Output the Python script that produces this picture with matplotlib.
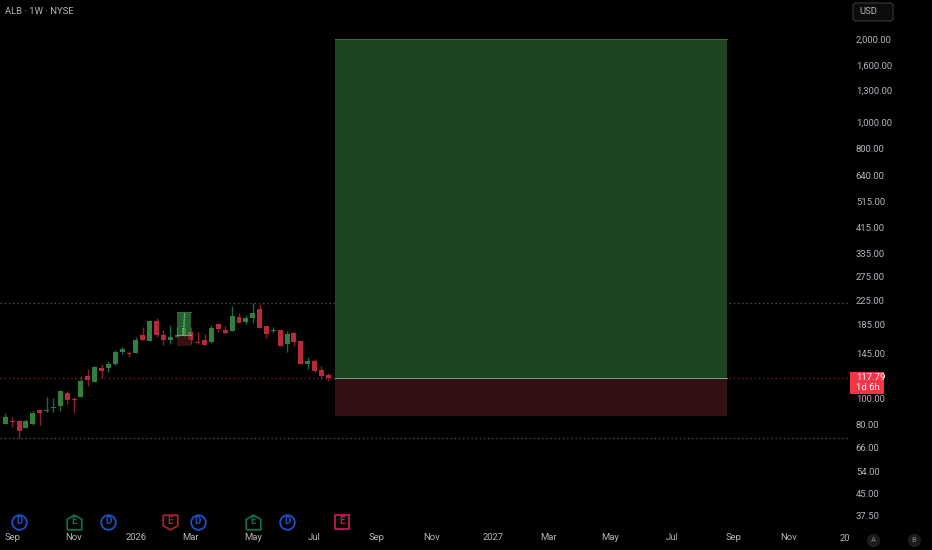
import matplotlib
matplotlib.use('Agg')
import matplotlib.pyplot as plt
import matplotlib.dates as mdates
from matplotlib.patches import FancyBboxPatch, Rectangle
from matplotlib.transforms import Bbox
import pandas as pd
import numpy as np

plt.rcParams['font.family'] = ['Roboto', 'DejaVu Sans']

# weekly candles, first bar partly off the left edge
dates = pd.date_range('2025-08-18', periods=49, freq='7D')
opens = [82.0, 80.7, 82.5, 82.8, 78.0, 80.4, 90.7, 89.7, 92.0, 93.8, 104.3, 98.9, 101.1, 120.5, 114.6, 128.5, 128.1,
         132.8, 146.4, 145.6, 145.6, 168.8, 160.9, 189.6, 168.8, 162.3, 165.9, 168.3, 174.0, 159.6, 162.8, 159.1,
         185.5, 176.4, 175.5, 196.5, 188.5, 195.5, 210.7, 182.4, 175.5, 176.4, 157.4, 171.6, 160.9, 132.8, 136.2,
         126.4, 121.2]
highs = [83.0, 88.2, 85.1, 83.2, 83.9, 89.7, 91.5, 100.6, 100.3, 106.9, 106.0, 100.6, 120.2, 127.4, 130.6, 133.2, 136.6,
         149.7, 152.6, 148.0, 165.9, 180.4, 191.7, 195.5, 176.0, 183.4, 181.4, 205.0, 181.4, 173.5, 170.6, 183.9,
         187.5, 181.9, 215.5, 202.7, 199.9, 220.3, 219.1, 182.9, 180.9, 176.9, 174.5, 173.5, 161.3, 140.5, 137.9,
         130.6, 122.9]
lows = [81.0, 80.4, 78.4, 71.4, 77.8, 80.0, 79.8, 89.0, 89.2, 89.5, 95.1, 88.2, 100.6, 110.8, 114.0, 117.8, 124.6,
        131.3, 144.4, 141.3, 145.2, 161.8, 160.5, 166.4, 156.1, 157.4, 164.5, 166.8, 156.9, 156.5, 155.6, 158.3,
        174.0, 171.2, 175.0, 186.5, 185.5, 187.5, 179.4, 165.5, 172.1, 154.0, 147.2, 154.7, 132.8, 127.8, 124.6,
        117.2, 115.5]
closes = [81.6, 85.3, 81.6, 75.9, 82.3, 88.2, 88.2, 90.5, 93.0, 106.0, 98.3, 98.1, 115.5, 116.2, 129.9, 124.9, 133.2,
          146.4, 150.1, 144.0, 161.8, 162.8, 189.6, 169.7, 162.8, 166.8, 169.2, 179.9, 161.8, 157.8, 156.1, 179.9,
          177.4, 172.6, 197.7, 187.5, 194.5, 203.2, 179.9, 170.6, 176.4, 154.7, 170.6, 159.6, 133.2, 135.8, 125.6,
          120.5, 117.79]

price_ticks = [2000, 1600, 1300, 1000, 800, 640, 515, 415, 335, 275, 225, 185, 145, 100, 80, 66, 54, 45, 37.5]
time_ticks = ['2025-09-01', '2025-11-03', '2026-01-05', '2026-03-02', '2026-05-04', '2026-07-06', '2026-09-07',
              '2026-11-02', '2027-01-04', '2027-03-01', '2027-05-03', '2027-07-05', '2027-09-06', '2027-11-01']
time_labels = ['Sep', 'Nov', '2026', 'Mar', 'May', 'Jul', 'Sep', 'Nov', '2027', 'Mar', 'May', 'Jul', 'Sep', 'Nov']

# long position tool, big one and the small one on the candles
big_start, big_end = '2026-07-27', '2027-08-30'
big_target, big_entry, big_stop = 2000, 118.4, 86.0
small_start, small_end = '2026-02-16', '2026-03-02'
small_target, small_entry, small_stop = 204.9, 168.7, 154.6

div_dates = ['2025-09-08', '2025-12-08', '2026-03-09', '2026-06-08']
earn_up = ['2025-11-03', '2026-05-04']
earn_down = ['2026-02-09']
earn_next = ['2026-08-03']

UP = '#327f3c'
DOWN = '#b82a38'
UP_WICK = '#146a50'
DOWN_WICK = '#8c1f2c'
TEXT = '#b2b5be'
FS = 6.8

fig = plt.figure(figsize=(9.32, 5.5), dpi=100, facecolor='black')
ax = fig.add_axes([0, 23 / 550, 850 / 932, 527 / 550], facecolor='black')
for s in ax.spines.values():
    s.set_visible(False)

ax.set_yscale('log')
ax.set_ylim(100 * 10 ** ((398 - 527) / 276), 100 * 10 ** (398 / 276))
t0 = mdates.date2num(pd.Timestamp('2025-09-01'))
ax.set_xlim(t0 + (0 - 12.2) / 6.872 * 7, t0 + (850 - 12.2) / 6.872 * 7)

x = mdates.date2num(dates)
o = np.array(opens)
h = np.array(highs)
l = np.array(lows)
c = np.array(closes)
up = c >= o

ax.vlines(x[up], l[up], h[up], color=UP_WICK, lw=1, zorder=2)
ax.vlines(x[~up], l[~up], h[~up], color=DOWN_WICK, lw=1, zorder=2)
ax.bar(x[up], c[up] - o[up], bottom=o[up], width=5, color=UP, zorder=3)
ax.bar(x[~up], o[~up] - c[~up], bottom=c[~up], width=5, color=DOWN, zorder=3)

# high, low and last price lines
ax.axhline(max(highs), color='#4e5058', lw=1, ls=(0, (1, 2)), zorder=1)
ax.axhline(min(lows), color='#4e5058', lw=1, ls=(0, (1, 2)), zorder=1)
ax.axhline(closes[-1], color='#701a26', lw=1, ls=(0, (1, 2)), zorder=1)


def position(start, end, target, entry, stop, green, red, alpha, z):
    a, b = mdates.date2num(pd.Timestamp(start)), mdates.date2num(pd.Timestamp(end))
    ax.fill_between([a, b], entry, target, color=green, alpha=alpha, lw=0, zorder=z)
    ax.fill_between([a, b], stop, entry, color=red, alpha=alpha, lw=0, zorder=z)
    ax.plot([a, b], [entry, entry], color='#7f9483', lw=0.8, zorder=z + 1)
    ax.plot([a, b], [target, target], color='#3c6e42', lw=0.7, zorder=z + 1)
    return a, b


position(big_start, big_end, big_target, big_entry, big_stop, '#1c4420', '#321013', 1, 4)
a, b = position(small_start, small_end, small_target, small_entry, small_stop, '#3f9a4c', '#5a1a20', 0.62, 4)
# dashed arrow inside the small tool
ax.plot([a + 6, a + 7.5], [small_entry, small_target * 0.985], color='#a8c8ac', lw=0.7, ls=(0, (1.5, 1.5)), zorder=6)

ax.set_yticks(price_ticks)
ax.set_yticklabels([f'{p:,.2f}' for p in price_ticks], color=TEXT, fontsize=FS)
ax.minorticks_off()
ax.yaxis.tick_right()
ax.tick_params(axis='y', length=0, pad=4.2)
ax.set_xticks(mdates.date2num(pd.to_datetime(time_ticks)))
ax.set_xticklabels(time_labels, color=TEXT, fontsize=FS)
ax.tick_params(axis='x', length=0, pad=4.5)

# 2028 is cut off by the price scale
cut = ax.text(mdates.date2num(pd.Timestamp('2028-01-03')), -11.5 / 527, '2028', color=TEXT, fontsize=FS,
              ha='center', va='center', transform=ax.get_xaxis_transform(), clip_on=True)
cut.set_clip_box(Bbox([[0, 0], [850, 550]]))

# events row
tr = ax.get_xaxis_transform()
ev_y = (527 - 521.5) / 527
pent_up = [(-1, -1), (1, -1), (1, 0.45), (0, 1), (-1, 0.45), (-1, -1)]
pent_down = [(-1, 1), (1, 1), (1, -0.45), (0, -1), (-1, -0.45), (-1, 1)]


def events(days, marker, col, letter, size=10.5):
    for d in days:
        n = mdates.date2num(pd.Timestamp(d))
        ax.plot([n], [ev_y], marker=marker, ms=size, mfc='none', mec=col, mew=1.3, transform=tr, clip_on=False,
                zorder=6)
        ax.text(n, ev_y, letter, color=col, fontsize=7, fontweight='bold', ha='center', va='center', transform=tr,
                zorder=7)


events(div_dates, 'o', '#1f4fc4', 'D')
events(earn_up, pent_up, '#0f6b52', 'E')
events(earn_down, pent_down, '#a81f2d', 'E')
events(earn_next, 's', '#c2185b', 'E', 9.5)

# header and overlays drawn in pixels
pix = fig.add_axes([0, 0, 1, 1], facecolor='none')
pix.set_xlim(0, 932)
pix.set_ylim(550, 0)
pix.axis('off')
pix.text(5, 11, 'ALB · 1W · NYSE', color=TEXT, fontsize=FS, va='center')
pix.add_patch(FancyBboxPatch((853, 3), 40, 18, boxstyle='round,pad=0,rounding_size=3', fc='#0c0c0c', ec='#2f2f2f',
                             lw=1))
pix.text(859, 12, 'USD', color=TEXT, fontsize=FS, va='center')
pix.add_patch(Rectangle((850, 372), 34, 22, fc='#f23645', ec='none'))
pix.text(856, 378, f'{closes[-1]:.2f}', color='white', fontsize=FS, va='center')
pix.text(856, 388, '1d 6h', color='white', fontsize=FS, va='center')
for cx, t in [(873, 'A'), (914, 'B')]:
    pix.plot([cx], [540], 'o', ms=9.5, color='#1c1c1c', mec='none')
    pix.text(cx, 540, t, color='#808080', fontsize=5.5, ha='center', va='center')

fig.savefig('out.png', dpi=100, facecolor='black')
